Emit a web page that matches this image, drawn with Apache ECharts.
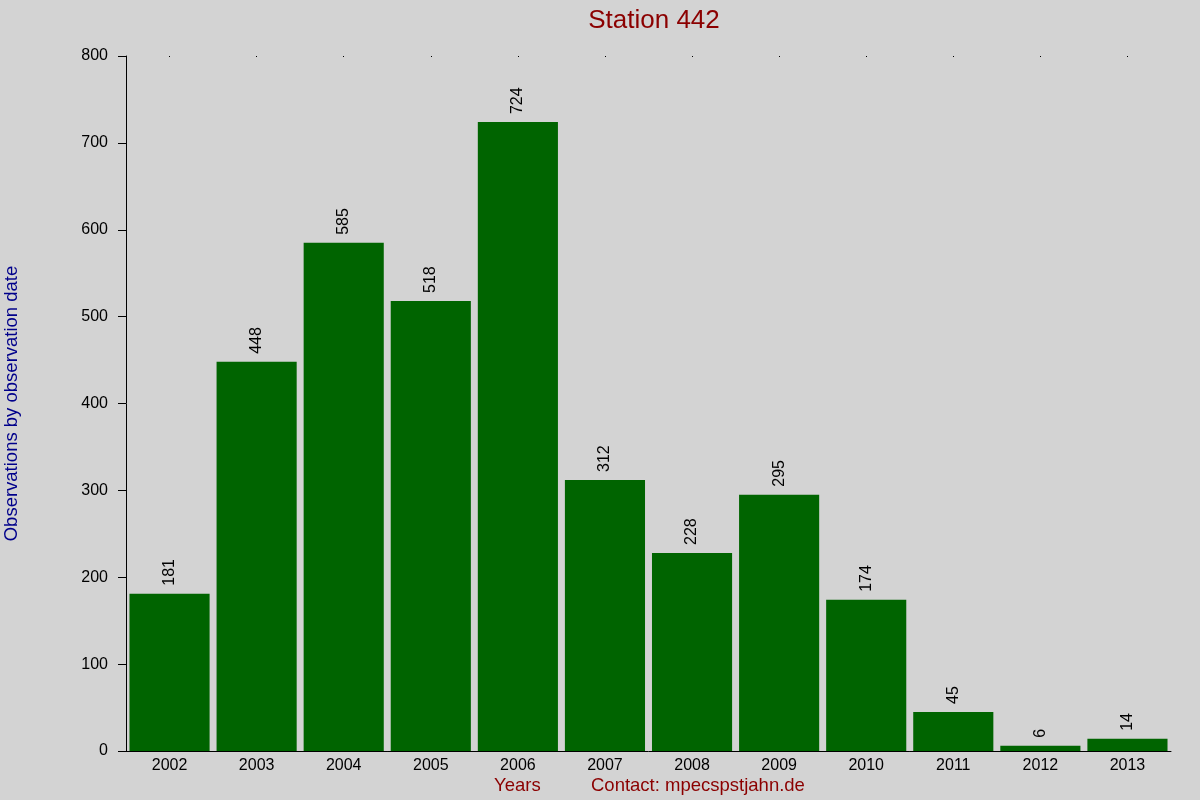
<!DOCTYPE html>
<html>
<head>
<meta charset="utf-8">
<script src="https://cdn.jsdelivr.net/npm/echarts@6/dist/echarts.min.js"></script>
<style>
  html, body { margin: 0; padding: 0; background: #d3d3d3; }
  #main { width: 1200px; height: 800px; }
</style>
</head>
<body>
<div id="main"></div>
<script>
// Chart data
const years = ["2002", "2003", "2004", "2005", "2006", "2007", "2008", "2009", "2010", "2011", "2012", "2013"];
const observations = [181, 448, 585, 518, 724, 312, 228, 295, 174, 45, 6, 14];

var myChart = echarts.init(document.getElementById("main"));

var option = {
  backgroundColor: "#d3d3d3",
  animation: false,
  textStyle: { fontFamily: "Liberation Sans, Arial, sans-serif" },
  title: {
    text: "Station 442",
    left: 649,
    top: 3,
    textAlign: "center",
    textStyle: { color: "#8b0000", fontSize: 26, fontWeight: "normal" },
  },
  grid: { left: 126, right: 29, top: 56, bottom: 49, outerBoundsMode: "none" },
  xAxis: [
    {
      type: "category",
      data: years,
      axisLine: { lineStyle: { color: "#000", width: 1 } },
      axisTick: { show: false },
      axisLabel: { color: "#000", fontSize: 16, margin: 7 },
    },
    {
      // little dots along the top edge
      type: "category",
      position: "top",
      data: years,
      axisLine: { show: false },
      axisTick: { show: true, alignWithLabel: true, length: 1, inside: true, lineStyle: { color: "#000" } },
      axisLabel: { show: false },
    },
  ],
  yAxis: {
    type: "value",
    min: 0,
    max: 800,
    interval: 100,
    name: "Observations by observation date",
    nameLocation: "middle",
    nameGap: 105,
    nameTextStyle: { color: "#00008b", fontSize: 18.5 },
    splitLine: { show: false },
    axisLine: { show: true, lineStyle: { color: "#000" } },
    axisTick: { show: true, length: 8, lineStyle: { color: "#000" } },
    axisLabel: { color: "#000", fontSize: 16, margin: 18 },
  },
  series: [
    {
      type: "bar",
      data: observations,
      barCategoryGap: "8%",
      itemStyle: { color: "#006400" },
      label: {
        show: true,
        position: "top",
        rotate: 90,
        align: "left",
        verticalAlign: "middle",
        distance: 8,
        color: "#000",
        fontSize: 16,
      },
    },
  ],
  graphic: [
    {
      type: "text",
      left: 494,
      top: 776,
      style: { text: "Years", fill: "#8b0000", fontSize: 18.5, fontFamily: "Liberation Sans, Arial, sans-serif" },
    },
    {
      type: "text",
      left: 591,
      top: 776,
      style: { text: "Contact: mpecspstjahn.de", fill: "#8b0000", fontSize: 18.5, fontFamily: "Liberation Sans, Arial, sans-serif" },
    },
  ],
};

myChart.setOption(option);
</script>
</body>
</html>
